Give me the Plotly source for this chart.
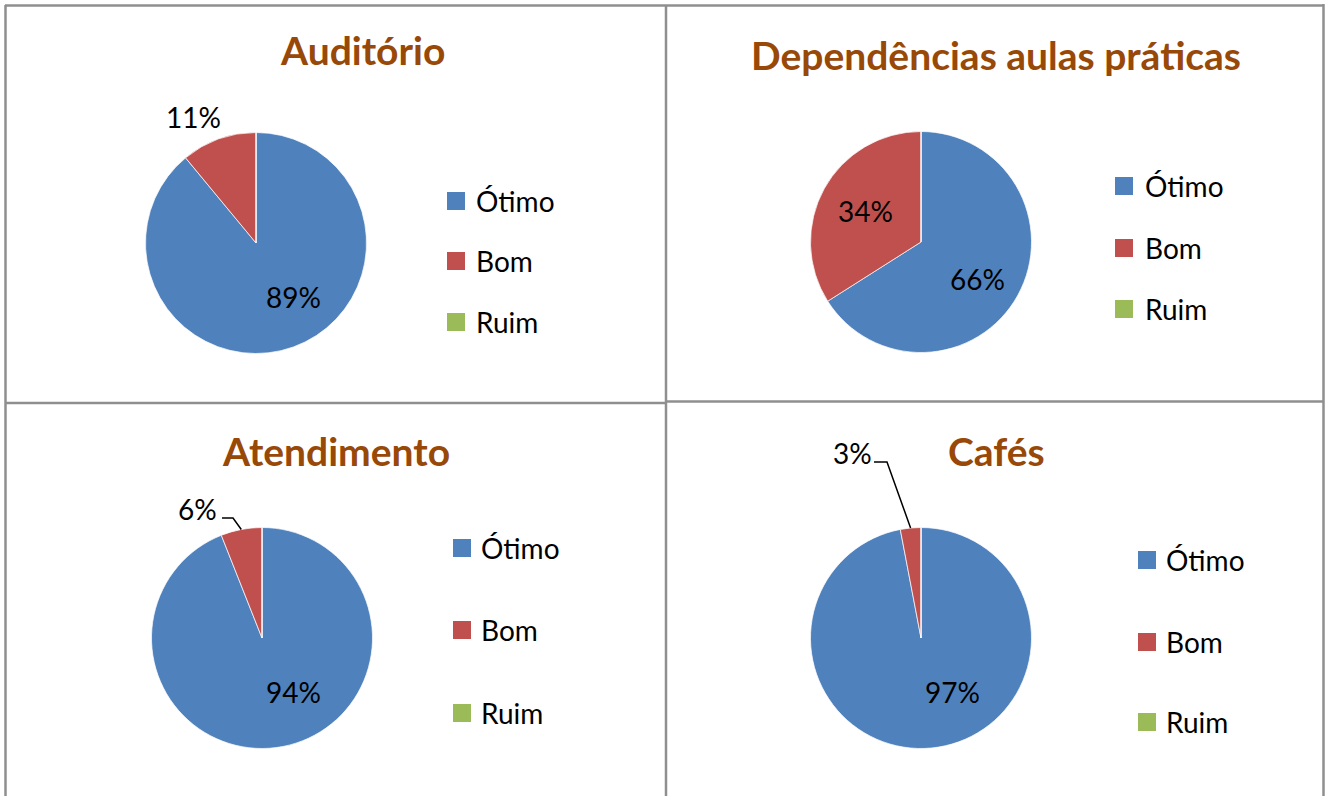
import math
import plotly.graph_objects as go

# ---------------- data ----------------
categories = ["Ótimo", "Bom", "Ruim"]
titles = ["Auditório", "Dependências aulas práticas", "Atendimento", "Cafés"]
auditorio = [89, 11, 0]
dependencias = [66, 34, 0]
atendimento = [94, 6, 0]
cafes = [97, 3, 0]
series = [auditorio, dependencias, atendimento, cafes]

colors = ["#4F81BD", "#C0504D", "#9BBB59"]
TITLE_COLOR = "#984807"
FONT = "Lato, 'Open Sans', sans-serif"

W, H = 1325, 796
R = 110.5

def px(x):
    return x / W

def py(y):
    return 1 - y / H

# layout per panel (pixels): pie centre, title centre, legend placement, label positions per slice
panels = [
    dict(c=(256, 243), title=(362, 50), sq=447, tx=474, ly=[201, 261, 322],
         lab=[(293, 297), (193, 117), None], leader=[None, None, None]),
    dict(c=(921, 242), title=(996, 55), sq=1115, tx=1143, ly=[186, 248, 309],
         lab=[(977, 279), (865, 211), None], leader=[None, None, None]),
    dict(c=(262, 638), title=(336, 451), sq=453, tx=479, ly=[548, 630, 713],
         lab=[(293, 692), (197, 509), None], leader=[None, (222, 518, 233), None]),
    dict(c=(921, 638), title=(996, 451), sq=1138, tx=1164, ly=[560, 642, 722],
         lab=[(952, 692), (852, 453), None], leader=[None, (874, 462, 887), None]),
]

fig = go.Figure()
shapes = []
annotations = []

for vals, ttl, p in zip(series, titles, panels):
    cx, cy = p["c"]
    total = sum(vals)
    labels_txt = [f"{round(100 * v / total)}%" if v > 0 else "" for v in vals]
    fig.add_trace(go.Pie(
        labels=categories, values=vals, textinfo="none",
        sort=False, direction="clockwise", rotation=0,
        marker=dict(colors=colors, line=dict(color="rgba(255,255,255,0.7)", width=1)),
        showlegend=False, hoverinfo="label+percent",
        domain=dict(x=[px(cx - R), px(cx + R)], y=[py(cy + R), py(cy - R)]),
    ))
    # title
    annotations.append(dict(x=px(p["title"][0]), y=py(p["title"][1]), xref="paper", yref="paper",
                            text=f"<b>{ttl}</b>", showarrow=False, xanchor="center", yanchor="middle",
                            font=dict(family=FONT, size=39, color=TITLE_COLOR)))
    # data labels
    for i, (txt, pos, ld) in enumerate(zip(labels_txt, p["lab"], p["leader"])):
        if not txt or pos is None:
            continue
        annotations.append(dict(x=px(pos[0]), y=py(pos[1]), xref="paper", yref="paper", text=txt,
                                showarrow=False, xanchor="center", yanchor="middle",
                                font=dict(family=FONT, size=28, color="black")))
        if ld:
            start = sum(vals[:i]) / total
            mid = 2 * math.pi * (start + vals[i] / total / 2)
            tipx = cx + R * math.sin(mid)
            tipy = cy - R * math.cos(mid)
            x0, yl, x1 = ld
            shapes.append(dict(type="path", xref="paper", yref="paper",
                               path=f"M {px(x0)},{py(yl)} L {px(x1)},{py(yl)} L {px(tipx)},{py(tipy)}",
                               line=dict(color="black", width=1.5)))
    # legend
    for k, (cat, col) in enumerate(zip(categories, colors)):
        yc = p["ly"][k]
        shapes.append(dict(type="rect", xref="paper", yref="paper",
                           x0=px(p["sq"]), x1=px(p["sq"] + 18), y0=py(yc - 9), y1=py(yc + 9),
                           fillcolor=col, line=dict(width=0)))
        annotations.append(dict(x=px(p["tx"]), y=py(yc), xref="paper", yref="paper", text=cat,
                                showarrow=False, xanchor="left", yanchor="middle",
                                font=dict(family=FONT, size=28, color="black")))

# panel borders
BC = "#8f8f8f"
BW = 2.5
for (x0, y0, x1, y1) in [(5, 5.5, 1324, 5.5), (5.5, 5, 5.5, 796), (1323.5, 4, 1323.5, 796),
                         (666, 5, 666, 796), (5, 403, 666, 403), (666, 401.5, 1324, 401.5)]:
    shapes.append(dict(type="line", xref="paper", yref="paper", x0=px(x0), y0=py(y0),
                       x1=px(x1), y1=py(y1), line=dict(color=BC, width=BW)))

fig.update_layout(width=W, height=H, margin=dict(l=0, r=0, t=0, b=0),
                  paper_bgcolor="white", plot_bgcolor="white",
                  shapes=shapes, annotations=annotations, font=dict(family=FONT))

fig.write_html("out.html", config={"displayModeBar": False},
               post_script="document.body.style.margin='0';document.body.style.overflow='hidden';")
